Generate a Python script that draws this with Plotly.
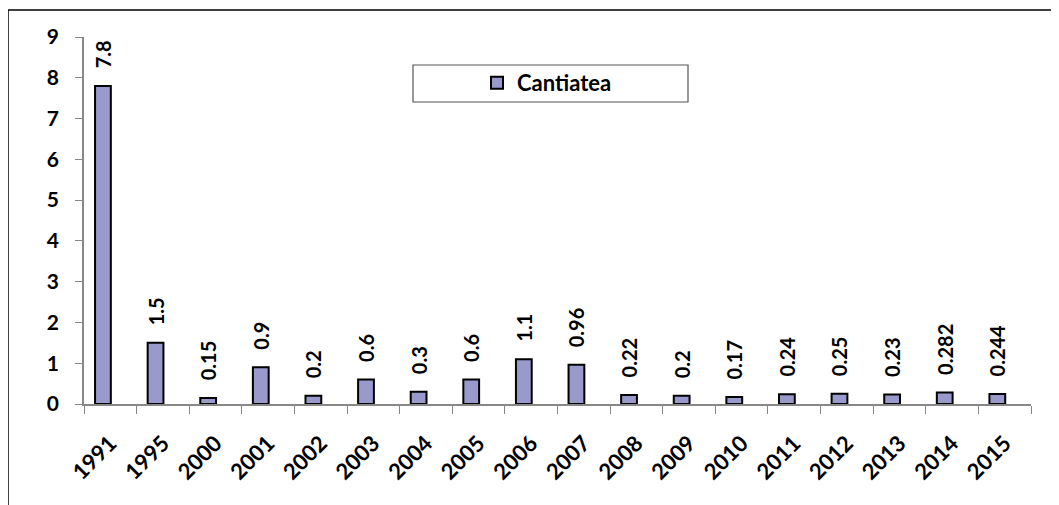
import plotly.graph_objects as go

years = ["1991", "1995", "2000", "2001", "2002", "2003", "2004", "2005", "2006",
         "2007", "2008", "2009", "2010", "2011", "2012", "2013", "2014", "2015"]
values = [7.8, 1.5, 0.15, 0.9, 0.2, 0.6, 0.3, 0.6, 1.1,
          0.96, 0.22, 0.2, 0.17, 0.24, 0.25, 0.23, 0.282, 0.244]
labels = ["7.8", "1.5", "0.15", "0.9", "0.2", "0.6", "0.3", "0.6", "1.1",
          "0.96", "0.22", "0.2", "0.17", "0.24", "0.25", "0.23", "0.282", "0.244"]

fnt = "Lato"

fig = go.Figure()
fig.add_trace(go.Bar(
    x=years, y=values, name="Cantiatea",
    width=0.3, offset=-0.29,
    marker=dict(color="#9999CC", line=dict(color="black", width=2)),
    text=["\u00a0\u00a0\u00a0" + s for s in labels],
    textposition="outside", textangle=-90, cliponaxis=False,
    textfont=dict(family=fnt, size=20, color="black", weight="bold"),
))

# page is drawn with an 8px body offset, so work in page pixels and shift
OFF = 8
W, H = 1059, 505
L, T = 84 - OFF, 37 - OFF
R, B = W - (1031 - OFF), H - (404 - OFF)
pw, ph = W - L - R, H - T - B

def px_x(v):
    return (v - OFF - L) / pw

def px_y(v):
    return (H - B - (v - OFF)) / ph

fig.update_layout(
    width=W, height=H,
    margin=dict(l=L, r=R, t=T, b=B, autoexpand=False),
    plot_bgcolor="white", paper_bgcolor="white",
    uniformtext=dict(minsize=20, mode="show"),
    showlegend=True,
    legend=dict(
        x=px_x(477), y=px_y(83), xanchor="left", yanchor="middle",
        borderwidth=0, bgcolor="rgba(0,0,0,0)",
        font=dict(family=fnt, size=22, color="black", weight="bold"),
        itemwidth=30,
    ),
    font=dict(family=fnt, color="black"),
    shapes=[
        dict(type="line", xref="paper", yref="paper",
             x0=px_x(8), x1=px_x(8), y0=px_y(520), y1=px_y(10),
             line=dict(color="black", width=1.5)),
        dict(type="line", xref="paper", yref="paper",
             x0=px_x(8), x1=px_x(1070), y0=px_y(10), y1=px_y(10),
             line=dict(color="black", width=1.5)),
        dict(type="rect", xref="paper", yref="paper",
             x0=px_x(413), x1=px_x(688), y0=px_y(102), y1=px_y(65),
             line=dict(color="#555", width=1.2), layer="below"),
    ],
)
fig.update_yaxes(
    range=[0, 9], dtick=1, showgrid=False, zeroline=False, automargin=False,
    showline=True, linecolor="#888", linewidth=1.5,
    ticks="outside", ticklen=7, tickcolor="#888", ticklabelstandoff=12,
    tickfont=dict(family=fnt, size=21, color="black", weight="bold"),
)
fig.update_xaxes(
    showgrid=False, showline=True, linecolor="#888", linewidth=1.5, automargin=False,
    ticks="outside", ticklen=8, tickcolor="#888", tickson="boundaries",
    tickangle=-45, ticklabelstandoff=16,
    tickfont=dict(family=fnt, size=22, color="black", weight="bold"),
)

fig.write_html("out.html")
